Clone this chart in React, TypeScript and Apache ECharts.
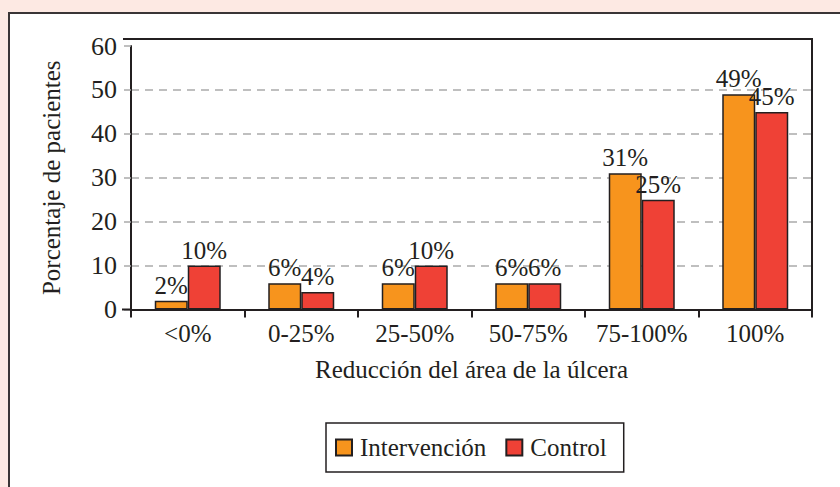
import React, { useEffect, useRef } from "react";
import * as echarts from "echarts";

const categories = ["<0%", "0-25%", "25-50%", "50-75%", "75-100%", "100%"];
const intervencion = [2, 6, 6, 6, 31, 49];
const control = [10, 4, 10, 6, 25, 45];
const yTicks = [0, 10, 20, 30, 40, 50, 60];

const FONT = "'Liberation Serif', 'DejaVu Serif', serif";
const INK = "#231f20";

export default function App() {
  const ref = useRef<HTMLDivElement>(null);
  useEffect(() => {
    if (!ref.current) return;
    const chart = echarts.init(ref.current, null, { renderer: "svg" });
    const labelStyle = {
      show: true,
      position: "top" as const,
      distance: 3,
      fontFamily: FONT,
      fontSize: 25,
      color: INK,
      formatter: (p: any) => p.value + "%",
    };
    chart.setOption({
      animation: false,
      backgroundColor: "#fde9e3",
      textStyle: { fontFamily: FONT },
      graphic: [
        {
          type: "rect",
          z: -10,
          shape: { x: 9, y: 13, width: 900, height: 600 },
          style: { fill: "#ffffff", stroke: "#3a3536", lineWidth: 2 },
          silent: true,
        },
        {
          type: "polyline",
          z: 10,
          shape: { points: [[123, 39], [812, 39], [812, 317]] },
          style: { fill: "none", stroke: INK, lineWidth: 2 },
          silent: true,
        },
        {
          type: "line",
          z: 10,
          shape: { x1: 122, y1: 309.5, x2: 131, y2: 309.5 },
          style: { stroke: INK, lineWidth: 2 },
          silent: true,
        },
      ],
      grid: { left: 131, right: 28, top: 46, bottom: 177.5, containLabel: false },
      legend: {
        left: 326,
        top: 423,
        itemWidth: 16,
        itemHeight: 16,
        itemGap: 19,
        padding: [12, 17, 12, 9],
        borderColor: INK,
        borderWidth: 1.5,
        borderRadius: 0,
        icon: "rect",
        textStyle: { fontFamily: FONT, fontSize: 25, color: INK, padding: [0, 0, 0, 3] },
        data: ["Intervención", "Control"],
      },
      xAxis: {
        type: "category",
        data: categories,
        name: "Reducción del área de la úlcera",
        nameLocation: "middle",
        nameGap: 47,
        nameTextStyle: { fontFamily: FONT, fontSize: 25, color: INK },
        axisLine: { lineStyle: { color: INK, width: 2 } },
        axisTick: { show: true, length: 8, lineStyle: { color: INK, width: 2 } },
        axisLabel: { fontFamily: FONT, fontSize: 25, color: INK, margin: 11, interval: 0, hideOverlap: false },
      },
      yAxis: {
        type: "value",
        min: 0,
        max: 60,
        interval: 10,
        name: "Porcentaje de pacientes",
        nameLocation: "middle",
        nameGap: 67,
        nameTextStyle: { fontFamily: FONT, fontSize: 25, color: INK },
        axisLine: { show: true, lineStyle: { color: INK, width: 2 } },
        axisTick: { show: true, length: 7, lineStyle: { color: "#aaaaaa", width: 1.5 } },
        axisLabel: {
          fontFamily: FONT,
          fontSize: 26,
          color: INK,
          margin: 14,
          formatter: (v: number) => (yTicks.includes(v) ? String(v) : ""),
        },
        splitLine: {
          show: true,
          showMinLine: false,
          showMaxLine: false,
          lineStyle: { color: "#aaaaaa", width: 1.5, type: [8, 6] },
        },
      },
      series: [
        {
          name: "Intervención",
          type: "bar",
          data: intervencion,
          barWidth: 33,
          barGap: "0%",
          itemStyle: { color: "#f7941d", borderColor: INK, borderWidth: 1.5 },
          label: labelStyle,
        },
        {
          name: "Control",
          type: "bar",
          data: control,
          barWidth: 33,
          barGap: "0%",
          itemStyle: { color: "#ef4136", borderColor: INK, borderWidth: 1.5 },
          label: labelStyle,
        },
      ],
    });
    return () => chart.dispose();
  }, []);
  return (
    <div
      ref={ref}
      style={{ position: "fixed", left: 0, top: 0, width: 840, height: 487 }}
    />
  );
}
